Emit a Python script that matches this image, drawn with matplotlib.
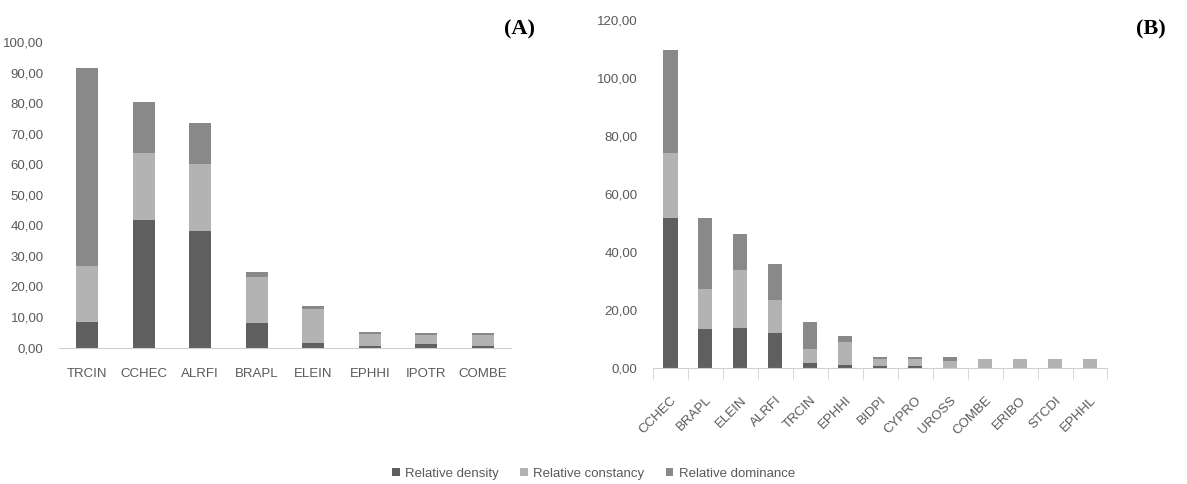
import numpy as np
import matplotlib
matplotlib.use("Agg")
import matplotlib.pyplot as plt

plt.rcParams['font.family'] = ['Liberation Sans', 'DejaVu Sans']

# Panel A
species_a = ["TRCIN", "CCHEC", "ALRFI", "BRAPL", "ELEIN", "EPHHI", "IPOTR", "COMBE"]
density_a = [8.5, 41.8, 38.1, 8.0, 1.5, 0.5, 1.1, 0.5]
constancy_a = [18.3, 22.0, 22.0, 15.1, 11.2, 3.9, 3.1, 3.7]
dominance_a = [64.7, 16.6, 13.5, 1.7, 1.0, 0.8, 0.6, 0.6]

# Panel B
species_b = ["CCHEC", "BRAPL", "ELEIN", "ALRFI", "TRCIN", "EPHHI", "BIDPI",
             "CYPRO", "UROSS", "COMBE", "ERIBO", "STCDI", "EPHHL"]
density_b = [51.6, 13.5, 13.9, 12.0, 1.5, 0.9, 0.6, 0.6, 0.1, 0.1, 0.1, 0.1, 0.1]
constancy_b = [22.4, 13.8, 19.9, 11.4, 4.9, 8.1, 2.5, 2.5, 2.4, 2.8, 2.8, 2.8, 2.8]
dominance_b = [35.7, 24.3, 12.3, 12.3, 9.5, 1.9, 0.5, 0.5, 1.1, 0.3, 0.3, 0.3, 0.3]

labels = ["Relative density", "Relative constancy", "Relative dominance"]
colors = ["#5f5f5f", "#b3b3b3", "#898989"]
txt = "#595959"
fs = 9.5


def fmt(v, pos):
    return f"{v:.2f}".replace(".", ",")


def stacked(ax, names, series, width):
    x = np.arange(len(names))
    bottom = np.zeros(len(names))
    bars = []
    for vals, c, lab in zip(series, colors, labels):
        b = ax.bar(x, vals, width, bottom=bottom, color=c, label=lab)
        bars.append(b)
        bottom += np.array(vals)
    ax.set_xlim(-0.5, len(names) - 0.5)
    for s in ["top", "right", "left"]:
        ax.spines[s].set_visible(False)
    ax.spines["bottom"].set_color("#d0d0d0")
    ax.yaxis.set_major_formatter(plt.FuncFormatter(fmt))
    ax.tick_params(axis="y", length=0, pad=11, labelsize=fs, labelcolor=txt)
    return bars


fig = plt.figure(figsize=(11.87, 4.84), dpi=100)

axa = fig.add_axes([0.0497, 0.282, 0.3808, 0.631])
bars = stacked(axa, species_a, [density_a, constancy_a, dominance_a], 0.39)
axa.set_ylim(0, 100)
axa.set_yticks(np.arange(0, 101, 10))
axa.set_xticks(np.arange(len(species_a)))
axa.set_xticklabels(species_a)
axa.tick_params(axis="x", length=0, pad=15, labelsize=fs, labelcolor=txt)
fig.text(0.451, 0.94, "(A)", family="Liberation Serif", fontweight="bold",
         fontsize=16, ha="right", va="center")

axb = fig.add_axes([0.550, 0.240, 0.383, 0.719])
stacked(axb, species_b, [density_b, constancy_b, dominance_b], 0.41)
axb.set_ylim(0, 120)
axb.set_yticks(np.arange(0, 121, 20))
axb.set_xticks(np.arange(len(species_b)))
axb.set_xticklabels(species_b, rotation=45, ha="right", rotation_mode="anchor")
axb.tick_params(axis="x", which="major", length=0, pad=19, labelsize=fs, labelcolor=txt)
axb.set_xticks(np.arange(len(species_b) + 1) - 0.5, minor=True)
axb.tick_params(axis="x", which="minor", length=8, color="#d0d0d0")
fig.text(0.982, 0.94, "(B)", family="Liberation Serif", fontweight="bold",
         fontsize=16, ha="right", va="center")

leg = fig.legend(handles=bars, labels=labels, loc="lower center",
                 bbox_to_anchor=(0.5, -0.016), ncol=3, frameon=False,
                 fontsize=fs, handlelength=0.6, handleheight=0.6,
                 handletextpad=0.4, columnspacing=1.6)
for t in leg.get_texts():
    t.set_color(txt)

fig.savefig("out.png", dpi=100)
